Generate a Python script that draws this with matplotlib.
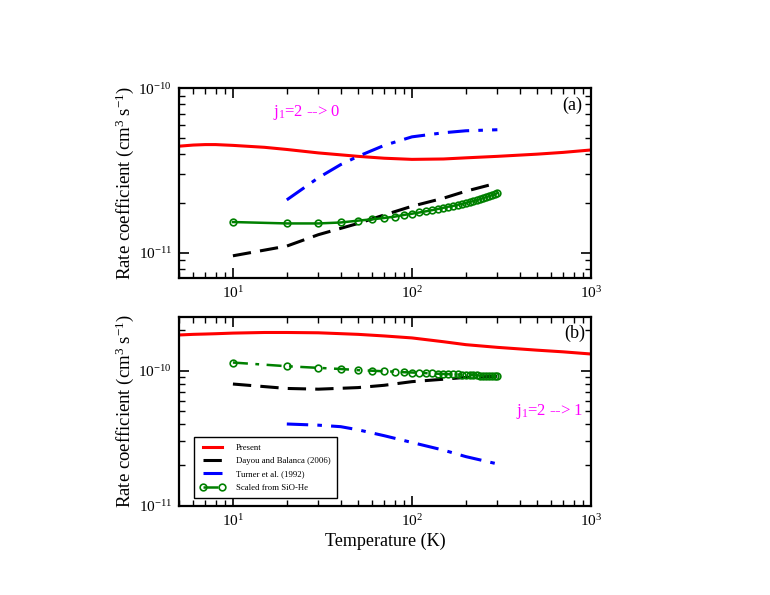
import matplotlib
matplotlib.use("Agg")
import matplotlib.pyplot as plt
from matplotlib.ticker import LogLocator, NullFormatter

plt.rcParams['font.family'] = ['Liberation Serif', 'DejaVu Serif']
plt.rcParams['mathtext.fontset'] = 'custom'
plt.rcParams['mathtext.rm'] = 'Liberation Serif'
plt.rcParams['mathtext.it'] = 'Liberation Serif:italic'

# ---- Panel (a): j1=2 -> 0 ----
T_red = [5, 6, 7, 8, 10, 15, 20, 30, 50, 70, 100, 150, 200, 300, 500, 700, 1000]
a_present = [4.45e-11, 4.52e-11, 4.55e-11, 4.55e-11, 4.5e-11, 4.38e-11, 4.25e-11, 4.05e-11,
             3.86e-11, 3.76e-11, 3.70e-11, 3.72e-11, 3.78e-11, 3.86e-11, 3.98e-11, 4.08e-11,
             4.22e-11]
T_db = [10, 20, 30, 50, 70, 100, 150, 200, 300]
a_dayou = [9.6e-12, 1.1e-11, 1.29e-11, 1.51e-11, 1.70e-11, 1.92e-11, 2.15e-11, 2.37e-11, 2.66e-11]
T_tu = [20, 30, 40, 50, 70, 100, 150, 200, 300]
a_turner = [2.1e-11, 2.86e-11, 3.44e-11, 3.86e-11, 4.5e-11, 5.07e-11, 5.37e-11, 5.52e-11, 5.6e-11]
T_sc = [10, 20, 30, 40, 50, 60, 70, 80, 90, 100, 110, 120, 130, 140, 150,
        160, 170, 180, 190, 200, 210, 220, 230, 240, 250, 260, 270, 280, 290, 300]
a_scaled = [1.54e-11, 1.51e-11, 1.51e-11, 1.53e-11, 1.57e-11, 1.60e-11, 1.63e-11, 1.66e-11,
            1.70e-11, 1.73e-11, 1.76e-11, 1.79e-11, 1.82e-11, 1.85e-11, 1.88e-11, 1.91e-11,
            1.93e-11, 1.96e-11, 1.98e-11, 2.01e-11, 2.04e-11, 2.06e-11, 2.09e-11, 2.12e-11,
            2.15e-11, 2.18e-11, 2.21e-11, 2.24e-11, 2.27e-11, 2.31e-11]

# ---- Panel (b): j1=2 -> 1 ----
b_present = [1.84e-10, 1.86e-10, 1.87e-10, 1.88e-10, 1.90e-10, 1.92e-10, 1.92e-10, 1.91e-10,
             1.86e-10, 1.81e-10, 1.75e-10, 1.64e-10, 1.56e-10, 1.49e-10, 1.42e-10, 1.38e-10,
             1.33e-10]
b_dayou = [7.97e-11, 7.39e-11, 7.3e-11, 7.5e-11, 7.8e-11, 8.3e-11, 8.65e-11, 8.93e-11, 9.1e-11]
b_turner = [4.03e-11, 3.95e-11, 3.85e-11, 3.65e-11, 3.3e-11, 2.94e-11, 2.58e-11, 2.31e-11, 2.04e-11]
b_scaled = [1.15e-10, 1.08e-10, 1.05e-10, 1.03e-10, 1.01e-10, 1.00e-10, 0.99e-10, 0.985e-10,
            0.975e-10, 0.97e-10, 0.965e-10, 0.96e-10, 0.955e-10, 0.95e-10, 0.947e-10, 0.944e-10,
            0.941e-10, 0.938e-10, 0.935e-10, 0.932e-10, 0.929e-10, 0.926e-10, 0.923e-10, 0.92e-10,
            0.918e-10, 0.916e-10, 0.914e-10, 0.912e-10, 0.911e-10, 0.91e-10]

labels = ["Present", "Dayou and Balanca (2006)", "Turner et al. (1992)", "Scaled from SiO-He"]
x_ticks = [10, 100, 1000]
y_ticks = [1e-11, 1e-10]

fig = plt.figure(figsize=(7.7, 5.95), dpi=100)
ax1 = fig.add_axes([0.2325, 0.5328, 0.535, 0.3188])
ax2 = fig.add_axes([0.2325, 0.1501, 0.535, 0.3171])

blue_dash = (0, (7, 3, 1.5, 3))

def style(ax):
    ax.set_xscale('log')
    ax.set_yscale('log')
    ax.set_xlim(5, 1000)
    ax.set_xticks(x_ticks)
    ax.set_yticks(y_ticks)
    for s in ax.spines.values():
        s.set_linewidth(1.6)
    ax.tick_params(which='both', direction='in', top=True, right=True, labelsize=11)
    ax.tick_params(which='major', length=7, width=1.2, pad=5)
    ax.tick_params(which='minor', length=4, width=1.0)
    ax.xaxis.set_minor_locator(LogLocator(base=10, subs=range(2, 10)))
    ax.yaxis.set_minor_locator(LogLocator(base=10, subs=range(2, 10)))
    ax.xaxis.set_minor_formatter(NullFormatter())
    ax.yaxis.set_minor_formatter(NullFormatter())
    ax.set_ylabel("Rate coefficient (cm$^{3}$ s$^{-1}$)", fontsize=13.5)
    ax.yaxis.set_label_coords(-0.105, 0.5)

# Panel a
ax1.plot(T_red, a_present, color='red', lw=2.2)
ax1.plot(T_db, a_dayou, color='black', lw=2.2, ls=(0, (6, 3)))
ax1.plot(T_tu, a_turner, color='blue', lw=2.2, ls=blue_dash)
ax1.plot(T_sc, a_scaled, color='green', lw=1.8, marker='o', mfc='none', ms=4.8, mew=1.2)
style(ax1)
ax1.set_ylim(7.04e-12, 1e-10)
ax1.text(0.228, 0.875, "j$_1$=2 --> 0", transform=ax1.transAxes, color='magenta', fontsize=12,
         va='center', ha='left')
ax1.text(0.978, 0.912, "(a)", transform=ax1.transAxes, fontsize=13, ha='right', va='center')

# Panel b
ax2.plot(T_red, b_present, color='red', lw=2.2, label=labels[0])
ax2.plot(T_db, b_dayou, color='black', lw=2.2, ls=(0, (6, 3)), label=labels[1])
ax2.plot(T_tu, b_turner, color='blue', lw=2.2, ls=blue_dash, label=labels[2])
ax2.plot(T_sc, b_scaled, color='green', lw=1.8, ls=(0, (6, 3, 1.5, 3)), marker='o', mfc='none',
         ms=4.8, mew=1.2, label=labels[3])
style(ax2)
ax2.set_ylim(1e-11, 2.5e-10)
ax2.set_xlabel("Temperature (K)", fontsize=13, labelpad=3)
ax2.text(0.818, 0.497, "j$_1$=2 --> 1", transform=ax2.transAxes, color='magenta', fontsize=12,
         va='center', ha='left')
ax2.text(0.985, 0.915, "(b)", transform=ax2.transAxes, fontsize=13, ha='right', va='center')
leg = ax2.legend(loc='lower left', bbox_to_anchor=(0.036, 0.041), fontsize=6.3, frameon=True,
                 fancybox=False, edgecolor='black', framealpha=1, handlelength=2.8,
                 borderpad=0.7, labelspacing=0.6, handletextpad=1.3, numpoints=2,
                 borderaxespad=0)
leg.get_frame().set_linewidth(1.0)

fig.savefig("out.png", dpi=100)
